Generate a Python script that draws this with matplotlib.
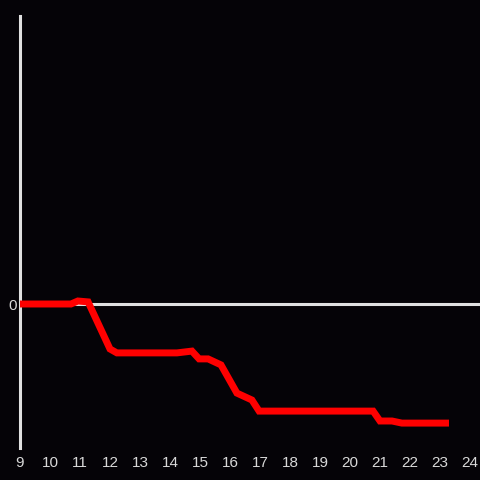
import matplotlib
matplotlib.use("Agg")
import matplotlib.pyplot as plt

plt.rcParams["font.family"] = ["Liberation Sans", "DejaVu Sans"]

# hour of day vs value
hours = [9, 10.7, 10.93, 11.27, 12.0, 12.23, 14.23, 14.73, 14.97, 15.27, 15.7,
         16.23, 16.73, 16.97, 20.77, 21.0, 21.4, 21.73, 23.3]
values = [0, 0, 0.1, 0.07, -1.5, -1.63, -1.63, -1.57, -1.83, -1.83, -2.03,
          -2.97, -3.2, -3.57, -3.57, -3.9, -3.9, -3.97, -3.97]
xticks = list(range(9, 25))

bg = "#050307"
fig = plt.figure(figsize=(4.8, 4.8), dpi=100, facecolor=bg)
ax = fig.add_axes([20 / 480, 32 / 480, 460 / 480, 432 / 480], facecolor=bg)

ax.axhline(0, color="#e0e0e0", lw=2.2, zorder=1)
ax.plot(hours, values, color="#ff0000", lw=5, solid_joinstyle="miter",
        solid_capstyle="butt", zorder=3)

ax.set_xlim(9, 24 + 10 / 30)
ax.set_ylim(-4.8, 9.6)
ax.set_xticks(xticks)
ax.set_yticks([0])
ax.tick_params(length=0, colors="#d8d8d8", labelsize=11)
ax.tick_params(axis="x", pad=6)
ax.tick_params(axis="y", pad=2)

for s in ["top", "right", "bottom"]:
    ax.spines[s].set_visible(False)
ax.spines["left"].set_color("#e0e0e0")
ax.spines["left"].set_linewidth(2.2)

fig.savefig("out.png", facecolor=bg)
